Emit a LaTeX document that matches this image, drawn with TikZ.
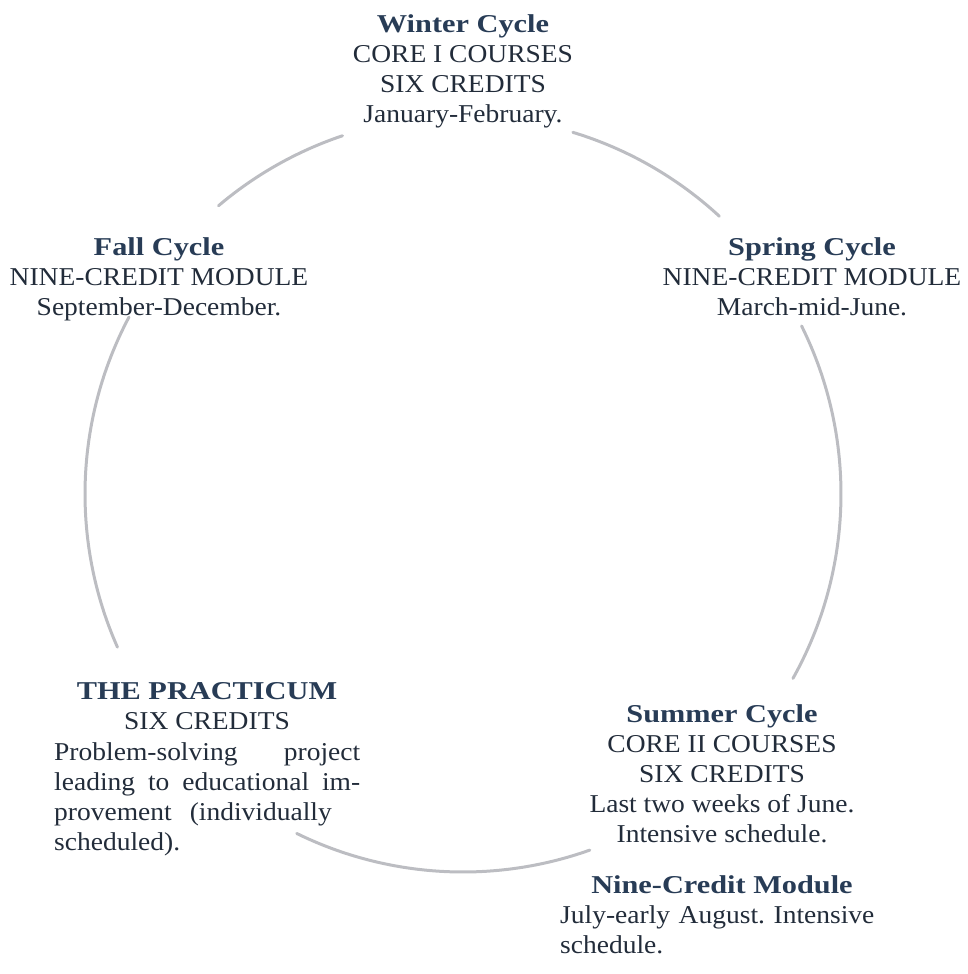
\documentclass[tikz,border=0pt]{standalone}
\usepackage{fontspec}
\setmainfont{Liberation Serif}[FakeStretch=1.07]
\newfontfamily\headfont{Liberation Serif}[FakeStretch=1.18]
\usetikzlibrary{calc}

\definecolor{ink}{RGB}{34,44,58}
\definecolor{headc}{RGB}{40,60,86}
\definecolor{ringc}{RGB}{188,189,194}

\newcommand{\cyc}[1]{{\headfont\bfseries\color{headc}#1}}
\def\ringr{378pt}
\frenchspacing

\tikzset{
  blurb/.style={inner sep=0pt, text=ink, align=center, anchor=north,
    font=\fontsize{25.7}{30}\selectfont},
  para/.style={blurb, align=left, anchor=north west},
  ring/.style={draw=ringc, line width=3pt, line cap=round}
}

\begin{document}
\begin{tikzpicture}[x=1pt, y=-1pt]
                \useasboundingbox (0,0) rectangle (968,974);

                % Centre of the cycle
                \coordinate (c) at (463,494);

                % The five terms
                \node[blurb] (winter) at (463,14) {\cyc{Winter Cycle}\\ CORE I COURSES\\ SIX CREDITS\\ January-February.};
                \node[blurb] (spring) at (812,237) {\cyc{Spring Cycle}\\ NINE-CREDIT MODULE\\ March-mid-June.};
                \node[blurb] (fall) at (159,237) {\cyc{Fall Cycle}\\ NINE-CREDIT MODULE\\ September-December.};
                \node[blurb] (summer) at (722,704) {\cyc{Summer Cycle}\\ CORE II COURSES\\ SIX CREDITS\\ Last two weeks of June.\\ Intensive schedule.};
                \node[blurb] (module) at (722,875) {\cyc{Nine-Credit Module}};
                \node[para, text width=325pt] (modtext) at (560,905) {July-early August. Intensive\\ schedule.};
                \node[blurb] (prac) at (207,682) {\cyc{THE PRACTICUM}\\ SIX CREDITS};
                \node[para, text width=306pt] (practext) at (54,742) {Problem-solving\hfill project\\ leading\hfill to\hfill educational\hfill im-\\ provement\hspace{0.7em}(individually\\ scheduled).};

                % Arc ends on the ring
                \coordinate (wf) at ($(c)+(130.3:\ringr)$);
                \coordinate (ws) at ($(c)+(73.1:\ringr)$);
                \coordinate (ss) at ($(c)+(26.4:\ringr)$);
                \coordinate (sp) at ($(c)+(-70.4:\ringr)$);
                \coordinate (pf) at ($(c)+(203.9:\ringr)$);

                % Draw the ring
                \draw[ring] (wf) arc[start angle=130.3, end angle=108.6, radius=\ringr];
                \draw[ring] (ws) arc[start angle=73.1, end angle=47.3, radius=\ringr];
                \draw[ring] (ss) arc[start angle=26.4, end angle=-29.2, radius=\ringr];
                \draw[ring] (sp) arc[start angle=-70.4, end angle=-116.1, radius=\ringr];
                \draw[ring] (pf) arc[start angle=203.9, end angle=152.1, radius=\ringr];
            \end{tikzpicture}
\end{document}
